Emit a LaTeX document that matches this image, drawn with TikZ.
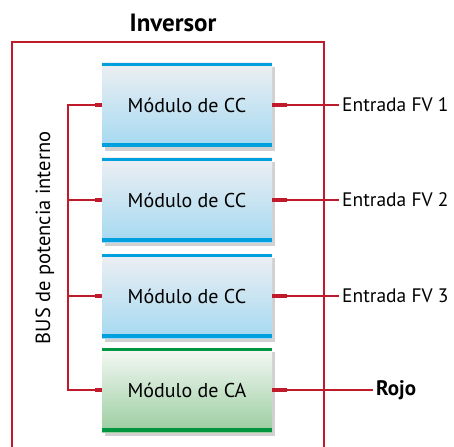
\documentclass[tikz,border=0pt]{standalone}
\usepackage{fontspec}
\setmainfont{PT Sans}
\usetikzlibrary{shadows}
\definecolor{cred}{HTML}{C01A2B}
\definecolor{cblue}{HTML}{00A0DF}
\definecolor{btop}{HTML}{EDEFF2}
\definecolor{bbot}{HTML}{A5D9F1}
\definecolor{cgreen}{HTML}{00963F}
\definecolor{gtop}{HTML}{F6F9F5}
\definecolor{gbot}{HTML}{9ACDA0}
\tikzset{
  modbox/.style={minimum width=170pt, minimum height=84pt, inner sep=0pt,
    font=\fontsize{20}{24}\selectfont,
    drop shadow={shadow xshift=3pt, shadow yshift=-4pt, opacity=0.18, fill=black}},
  ccbox/.style={modbox, top color=btop, bottom color=bbot},
  cabox/.style={modbox, top color=gtop, bottom color=gbot},
  wire/.style={draw=cred, line width=1.6pt},
  stubline/.style={draw=cred, line width=4pt},
  framel/.style={draw=cred, line width=1.8pt},
  lbl/.style={font=\fontsize{19.5}{23}\selectfont, anchor=west, inner sep=0pt},
}
\begin{document}
\begin{tikzpicture}[x=1pt,y=-1pt]
\useasboundingbox (0,0) rectangle (454,446);
\node[font=\bfseries\fontsize{25}{28}\selectfont] (title) at (173,23) {Inversor};
\draw[framel] (12,447) -- (12,42) -- (324,42) -- (324,447);

\node[ccbox] (b1) at (187,105) {Módulo de CC};
\node[ccbox] (b2) at (187,200) {Módulo de CC};
\node[ccbox] (b3) at (187,296) {Módulo de CC};
\node[cabox] (b4) at (187,390) {Módulo de CA};
\foreach \b in {b1,b2,b3}{
  \fill[cblue] (\b.north west) rectangle ([yshift=-3pt]\b.north east);
  \fill[cblue] (\b.south west) rectangle ([yshift=4pt]\b.south east);
}
\fill[cgreen] (b4.north west) rectangle ([yshift=-3pt]b4.north east);
\fill[cgreen] (b4.south west) rectangle ([yshift=4pt]b4.south east);

\coordinate (l1) at (68,105);
\coordinate (l2) at (68,200);
\coordinate (l3) at (68,296);
\coordinate (l4) at (68,390);
\draw[wire] (b1.west) -- (l1) -- (l4) -- (b4.west);
\draw[wire] (b2.west) -- (l2);
\draw[wire] (b3.west) -- (l3);
\foreach \b in {b1,b2,b3,b4}{
  \draw[stubline] (\b.west) -- ++(-7,0);
  \draw[stubline] (\b.east) -- ++(15,0);
}

\node[lbl] (e1) at (342,105) {Entrada FV 1};
\node[lbl] (e2) at (342,200) {Entrada FV 2};
\node[lbl] (e3) at (342,296) {Entrada FV 3};
\node[lbl, font=\bfseries\fontsize{21}{24}\selectfont] (r) at (376,390) {Rojo};
\draw[wire] (b1.east) -- ([xshift=-3pt]e1.west);
\draw[wire] (b2.east) -- ([xshift=-3pt]e2.west);
\draw[wire] (b3.east) -- ([xshift=-3pt]e3.west);
\draw[wire] (b4.east) -- ([xshift=-3pt]r.west);

\node[rotate=90, font=\fontsize{20.5}{24}\selectfont] (bus) at (45,238) {BUS de potencia interno};
\end{tikzpicture}
\end{document}
